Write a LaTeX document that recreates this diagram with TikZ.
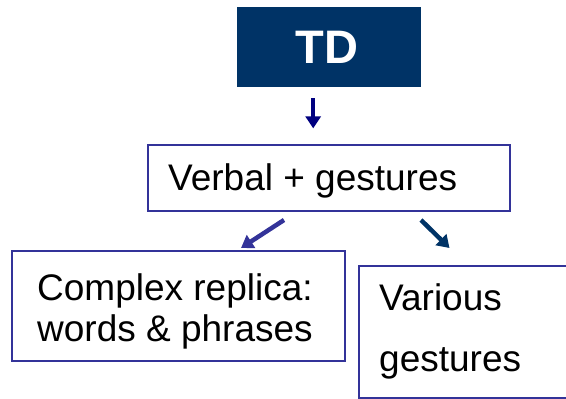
\documentclass[tikz,border=0pt]{standalone}
\usepackage{fontspec}
\setmainfont{Liberation Sans}
\usetikzlibrary{arrows.meta,calc}
\definecolor{tdblue}{RGB}{0,51,102}
\definecolor{boxblue}{RGB}{51,51,153}
\definecolor{navyarrow}{RGB}{0,0,128}
\tikzset{
  box/.style={draw=boxblue,line width=2pt,fill=white,inner sep=0pt,anchor=north west},
  txt/.style={inner sep=0pt,anchor=base west,font=\fontsize{37}{41}\selectfont},
  conn/.style={line width=4.5pt,-{Triangle[width=15pt,length=12pt]}}
}
\begin{document}
\begin{tikzpicture}[x=1pt,y=-1pt]
\useasboundingbox (0,0) rectangle (566,399);
% boxes
\node[fill=tdblue,inner sep=0pt,anchor=north west,minimum width=184pt,minimum height=80pt] (td) at (237,7) {};
\node[box,minimum width=362pt,minimum height=66pt] (verbal) at (147,144) {};
\node[box,minimum width=333pt,minimum height=110pt] (complex) at (11,250) {};
\node[box,minimum width=208pt,minimum height=132pt] (various) at (358,265) {};
% texts
\node[inner sep=0pt,anchor=base,text=white,font=\fontsize{47}{50}\selectfont\bfseries] (tdt) at (327,63) {TD};
\node[txt] (vt) at (168,190) {Verbal + gestures};
\node[txt] (ct1) at (37,300) {Complex replica:};
\node[txt] (ct2) at (37,341) {words \& phrases};
\node[txt] (gt1) at (379,310) {Various};
\node[txt] (gt2) at (379,371) {gestures};
% connectors
\draw[conn,navyarrow,line width=4pt] ($(td.south)+(-16,11)$) -- ($(td.south)+(-16,41)$);
\draw[conn,boxblue] ($(verbal.south)+(-45,8)$) -- ($(complex.north)+(62.5,-2)$);
\draw[conn,tdblue] ($(verbal.south)+(92,8)$) -- ($(various.north)+(-13.5,-17)$);
\end{tikzpicture}
\end{document}
